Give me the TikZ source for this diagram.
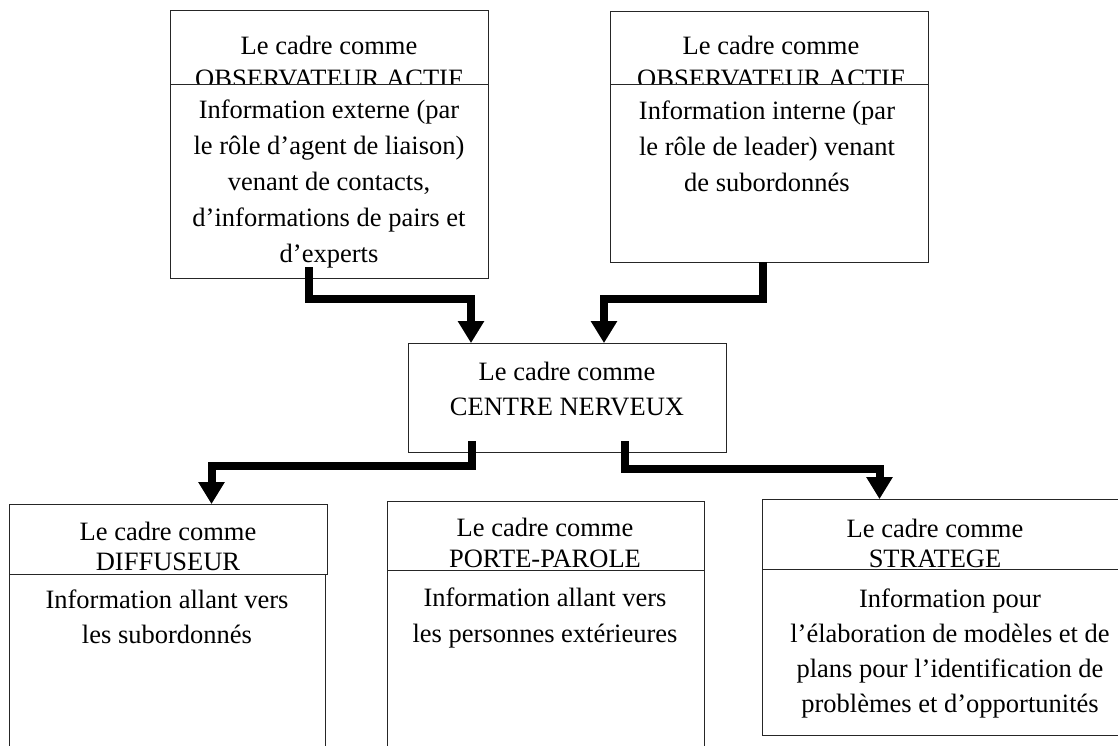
\documentclass[tikz,border=0pt]{standalone}
\usepackage{fontspec}
\setmainfont{Liberation Serif}
\usetikzlibrary{arrows.meta}

\begin{document}
\begin{tikzpicture}[x=1pt,y=-1pt,
  frame/.style={draw=black!85, line width=1pt, fill=white, anchor=north west,
    inner sep=0pt, outer sep=0pt},
  % text blocks are placed by the baseline of their last line
  txt/.style={anchor=base, align=center, inner sep=0pt,
    font=\fontsize{26.5}{#1}\selectfont},
  txt/.default=35.5,
  conn/.style={line width=8pt, line join=miter,
    -{Triangle[length=22pt,width=25pt]}},
  shadow/.style={conn, color=black!35, shift={(2,4)}}
]
\clip (0,0) rectangle (1118,746);
\fill[white] (0,0) rectangle (1118,746);

% ---- top left: observer (external information)
\node[frame, minimum width=318pt, minimum height=74pt] (tlh) at (170,11) {};
\node[txt=33] (tlht) at (329,88) {Le cadre comme\\OBSERVATEUR ACTIF};
\node[frame, minimum width=318pt, minimum height=193pt] (tlb) at (170,85) {};
\node[txt=35.8] (tlbt) at (329,262) {Information externe (par\\le rôle d’agent de liaison)\\venant de contacts,\\d’informations de pairs et\\d’experts};

% ---- top right: observer (internal information)
\node[frame, minimum width=318pt, minimum height=73pt] (trh) at (610,12) {};
\node[txt=33] (trht) at (771,88) {Le cadre comme\\OBSERVATEUR ACTIF};
\node[frame, minimum width=318pt, minimum height=177pt] (trb) at (610,85) {};
\node[txt=35.8] (trbt) at (767,191) {Information interne (par\\le rôle de leader) venant\\de subordonnés};

% ---- centre
\node[frame, minimum width=318pt, minimum height=109pt] (ctr) at (408,343) {};
\node[txt=35] (ctrt) at (567,415) {Le cadre comme\\CENTRE NERVEUX};

% ---- bottom left: disseminator
\node[frame, minimum width=318pt, minimum height=70pt] (blh) at (9,504) {};
\node[txt=30] (blht) at (168,570) {Le cadre comme\\DIFFUSEUR};
\node[frame, minimum width=316pt, minimum height=200pt] (blb) at (9,574) {};
\node[txt=35] (blbt) at (167,643) {Information allant vers\\les subordonnés};

% ---- bottom middle: spokesperson
\node[frame, minimum width=317pt, minimum height=69pt] (bmh) at (387,501) {};
\node[txt=31] (bmht) at (545,567) {Le cadre comme\\PORTE-PAROLE};
\node[frame, minimum width=317pt, minimum height=200pt] (bmb) at (387,570) {};
\node[txt=36] (bmbt) at (545,642) {Information allant vers\\les personnes extérieures};

% ---- bottom right: strategist (runs off the right edge)
\node[frame, minimum width=380pt, minimum height=70pt] (brh) at (762,499) {};
\node[txt=30] (brht) at (935,567) {Le cadre comme\\STRATEGE};
\node[frame, minimum width=380pt, minimum height=166pt] (brb) at (762,569) {};
\node[txt=35] (brbt) at (950,712) {Information pour\\l’élaboration de modèles et de\\plans pour l’identification de\\problèmes et d’opportunités};

% ---- connector anchor points
\coordinate (s1) at (309,267);  \coordinate (j1) at (471,299);
\coordinate (s2) at (763,262);  \coordinate (j2) at (604,299);
\coordinate (s3) at (472,441);  \coordinate (j3) at (211.5,465.5);
\coordinate (s4) at (624.5,441); \coordinate (j4) at (879.5,469);

% shadows first, then the black connectors
\foreach \s/\j/\t in {s1/j1/ctr, s2/j2/ctr, s3/j3/blh, s4/j4/brh}{
  \draw[shadow] (\s) -- (\s |- \j) -- (\j) -- (\j |- \t.north);
}
\draw[conn] (s1) -- (s1 |- j1) -- (j1) -- (j1 |- ctr.north);
\draw[conn] (s2) -- (s2 |- j2) -- (j2) -- (j2 |- ctr.north);
\draw[conn] (s3) -- (s3 |- j3) -- (j3) -- (j3 |- blh.north);
\draw[conn] (s4) -- (s4 |- j4) -- (j4) -- (j4 |- brh.north);
\end{tikzpicture}
\end{document}
